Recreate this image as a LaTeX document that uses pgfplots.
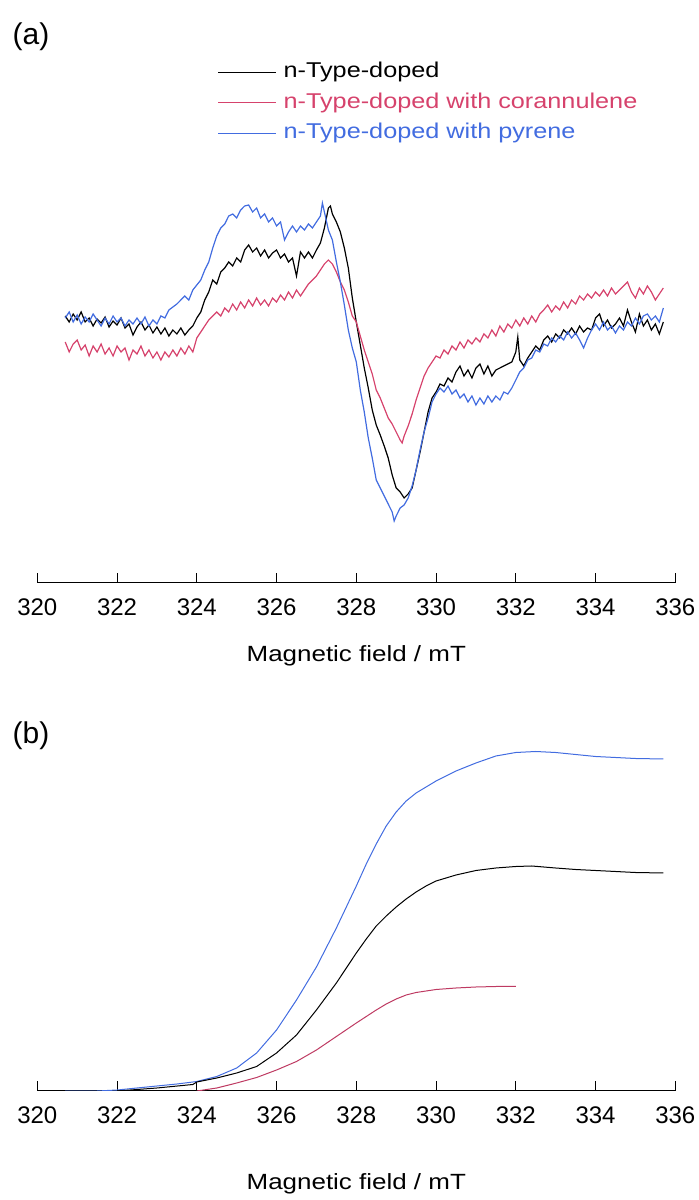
\documentclass[border=0pt]{standalone}
\usepackage{fontspec}
\setmainfont{Liberation Sans}
\newfontfamily\widefont[FakeStretch=1.18]{Liberation Sans}
\usepackage{pgfplots}
\pgfplotsset{compat=1.18}
\definecolor{cblack}{RGB}{0,0,0}
\definecolor{cred}{RGB}{214,66,108}
\definecolor{credb}{RGB}{190,58,98}
\definecolor{cblue}{RGB}{66,108,224}

% y values are (minus) vertical positions
\pgfplotsset{
  esr/.style={
    scale only axis, width=319pt,
    xmin=320, xmax=336,
    axis x line*=bottom, axis y line=none,
    xtick={320,322,...,336},
    tick align=inside, major tick length=5pt,
    axis line style={line width=0.5pt},
    major tick style={line width=0.5pt, black},
    /pgf/number format/assume math mode=true,
    every x tick label/.append style={anchor=center, yshift=-12.25pt,
      font=\fontsize{12}{14}\selectfont},
    xlabel={Magnetic field / mT},
    every axis plot/.append style={line width=0.6pt},
  }
}

\begin{document}
\begin{tikzpicture}
\useasboundingbox (0,0) rectangle (349.5pt,600pt);

\node[font=\fontsize{15}{18}\selectfont] at (15.5pt,581.5pt) {(a)};
\node[font=\fontsize{15}{18}\selectfont] at (15.5pt,232pt) {(b)};

% ---------- (a) ESR spectra ----------
\begin{axis}[esr,
  at={(18.65pt,308.5pt)}, anchor=south west,
  height=200pt, ymin=-583, ymax=-183,
  x label style={at={(axis description cs:0.5,0)}, anchor=center,
    yshift=-36.5pt, font=\widefont\fontsize{11}{13}\selectfont},
  legend style={at={(axis cs:324.507,-62)}, anchor=north west,
    draw=none, fill=none, inner sep=0pt, row sep=5.5pt, column sep=3.5pt,
    font=\widefont\fontsize{10.7}{12}\selectfont,
    nodes={inner sep=0pt, text height=7.6pt, text depth=2.2pt}},
  legend cell align=left,
  legend image code/.code={\draw[#1] (0pt,0pt) -- (29pt,0pt);},
]
\addplot[cblack] coordinates {
(320.7,-316)(320.8,-322)(320.9,-314)(321.0,-320)(321.1,-312)(321.2,-322)(321.3,-318)(321.4,-326)(321.5,-319)(321.6,-323)
(321.7,-317)(321.8,-327)(321.9,-321)(322.0,-325)(322.1,-318)(322.2,-328)(322.3,-324)(322.4,-335)(322.5,-327)(322.6,-322)
(322.7,-330)(322.8,-325)(322.9,-333)(323.0,-327)(323.1,-334)(323.2,-328)(323.3,-336)(323.4,-330)(323.5,-334)(323.6,-328)
(323.7,-335)(323.8,-330)(323.9,-326)(324.0,-318)(324.1,-312)(324.2,-300)(324.3,-292)(324.4,-280)(324.5,-284)(324.6,-272)
(324.7,-268)(324.8,-262)(324.9,-266)(325.0,-258)(325.1,-262)(325.2,-250)(325.3,-245)(325.4,-252)(325.5,-248)(325.6,-256)
(325.7,-250)(325.8,-258)(325.9,-253)(326.0,-250)(326.1,-258)(326.2,-254)(326.3,-262)(326.4,-258)(326.5,-276)(326.6,-252)
(326.7,-258)(326.8,-252)(326.9,-258)(327.0,-250)(327.1,-243)(327.2,-228)(327.3,-208)(327.35,-206)(327.4,-214)(327.5,-222)
(327.6,-232)(327.7,-248)(327.8,-268)(327.9,-298)(328.0,-322)(328.1,-345)(328.2,-368)(328.3,-388)(328.4,-410)(328.5,-425)
(328.6,-435)(328.7,-446)(328.8,-458)(328.9,-475)(329.0,-488)(329.1,-492)(329.2,-498)(329.3,-494)(329.4,-488)(329.5,-470)
(329.6,-452)(329.7,-432)(329.8,-412)(329.9,-398)(330.0,-392)(330.1,-384)(330.2,-386)(330.3,-378)(330.4,-382)(330.5,-372)
(330.6,-366)(330.7,-376)(330.8,-370)(330.9,-378)(331.0,-368)(331.1,-364)(331.2,-374)(331.3,-366)(331.4,-376)(331.5,-370)
(331.6,-368)(331.7,-366)(331.8,-364)(331.9,-362)(332.0,-352)(332.05,-337)(332.1,-360)(332.2,-366)(332.3,-358)(332.4,-352)
(332.5,-346)(332.6,-350)(332.7,-340)(332.8,-336)(332.9,-342)(333.0,-334)(333.1,-338)(333.2,-330)(333.3,-334)(333.4,-328)
(333.5,-334)(333.6,-326)(333.7,-332)(333.8,-328)(333.9,-330)(334.0,-318)(334.1,-314)(334.2,-326)(334.3,-320)(334.4,-328)
(334.5,-324)(334.6,-318)(334.7,-326)(334.8,-310)(334.9,-322)(335.0,-332)(335.1,-314)(335.2,-326)(335.3,-320)(335.4,-330)
(335.5,-324)(335.6,-334)(335.7,-322)
};
\addlegendentry{\textcolor{cblack}{n-Type-doped}}
\addplot[cred] coordinates {
(320.7,-342)(320.8,-352)(320.9,-344)(321.0,-340)(321.1,-350)(321.2,-345)(321.3,-356)(321.4,-346)(321.5,-352)(321.6,-344)
(321.7,-354)(321.8,-348)(321.9,-356)(322.0,-346)(322.1,-352)(322.2,-348)(322.3,-360)(322.4,-350)(322.5,-354)(322.6,-346)
(322.7,-356)(322.8,-350)(322.9,-358)(323.0,-352)(323.1,-360)(323.2,-352)(323.3,-357)(323.4,-350)(323.5,-356)(323.6,-348)
(323.7,-354)(323.8,-346)(323.9,-352)(324.0,-338)(324.1,-332)(324.2,-326)(324.3,-320)(324.4,-316)(324.5,-312)(324.6,-316)
(324.7,-308)(324.8,-312)(324.9,-304)(325.0,-310)(325.1,-302)(325.2,-308)(325.3,-300)(325.4,-306)(325.5,-298)(325.6,-305)
(325.7,-300)(325.8,-306)(325.9,-298)(326.0,-302)(326.1,-295)(326.2,-300)(326.3,-292)(326.4,-298)(326.5,-290)(326.6,-296)
(326.7,-290)(326.8,-284)(326.9,-280)(327.0,-276)(327.1,-270)(327.2,-264)(327.3,-260)(327.4,-264)(327.5,-272)(327.6,-282)
(327.7,-290)(327.8,-302)(327.9,-316)(328.0,-322)(328.1,-336)(328.2,-350)(328.3,-362)(328.4,-374)(328.5,-390)(328.6,-398)
(328.7,-408)(328.8,-418)(328.9,-424)(329.0,-432)(329.1,-440)(329.15,-443)(329.2,-436)(329.3,-426)(329.4,-414)(329.5,-400)
(329.6,-388)(329.7,-376)(329.8,-368)(329.9,-362)(330.0,-356)(330.1,-358)(330.2,-350)(330.3,-354)(330.4,-346)(330.5,-350)
(330.6,-342)(330.7,-348)(330.8,-340)(330.9,-344)(331.0,-338)(331.1,-342)(331.2,-334)(331.3,-338)(331.4,-330)(331.5,-336)
(331.6,-326)(331.7,-332)(331.8,-324)(331.9,-328)(332.0,-320)(332.1,-326)(332.2,-318)(332.3,-324)(332.4,-316)(332.5,-322)
(332.6,-314)(332.7,-310)(332.8,-305)(332.9,-312)(333.0,-306)(333.1,-310)(333.2,-302)(333.3,-308)(333.4,-300)(333.5,-304)
(333.6,-296)(333.7,-300)(333.8,-294)(333.9,-298)(334.0,-292)(334.1,-296)(334.2,-290)(334.3,-296)(334.4,-288)(334.5,-294)
(334.6,-290)(334.7,-286)(334.8,-282)(334.9,-292)(335.0,-298)(335.1,-288)(335.2,-294)(335.3,-286)(335.4,-292)(335.5,-300)
(335.6,-294)(335.7,-288)
};
\addlegendentry{\textcolor{cred}{n-Type-doped with corannulene}}
\addplot[cblue] coordinates {
(320.7,-318)(320.8,-312)(320.9,-322)(321.0,-315)(321.1,-324)(321.2,-317)(321.3,-322)(321.4,-314)(321.5,-320)(321.6,-326)
(321.7,-318)(321.8,-324)(321.9,-316)(322.0,-322)(322.1,-318)(322.2,-326)(322.3,-320)(322.4,-324)(322.5,-318)(322.6,-324)
(322.7,-317)(322.8,-326)(322.9,-320)(323.0,-324)(323.1,-316)(323.2,-318)(323.3,-310)(323.4,-307)(323.5,-304)(323.6,-300)
(323.7,-296)(323.8,-300)(323.9,-290)(324.0,-285)(324.1,-280)(324.2,-270)(324.3,-262)(324.4,-248)(324.5,-236)(324.6,-228)
(324.7,-224)(324.8,-216)(324.9,-214)(325.0,-218)(325.1,-210)(325.2,-206)(325.3,-205)(325.4,-212)(325.5,-208)(325.6,-218)
(325.7,-214)(325.8,-222)(325.9,-218)(326.0,-226)(326.1,-222)(326.2,-240)(326.3,-232)(326.4,-226)(326.5,-232)(326.6,-226)
(326.7,-230)(326.8,-224)(326.9,-228)(327.0,-222)(327.1,-216)(327.15,-203)(327.2,-212)(327.3,-230)(327.4,-240)(327.5,-262)
(327.6,-282)(327.7,-305)(327.8,-330)(327.9,-348)(328.0,-362)(328.1,-390)(328.2,-412)(328.3,-438)(328.4,-458)(328.5,-480)
(328.6,-488)(328.7,-496)(328.8,-504)(328.9,-512)(328.95,-521)(329.0,-516)(329.1,-508)(329.2,-505)(329.3,-498)(329.4,-486)
(329.5,-470)(329.6,-450)(329.7,-432)(329.8,-418)(329.9,-402)(330.0,-394)(330.1,-388)(330.2,-392)(330.3,-386)(330.4,-394)
(330.5,-390)(330.6,-398)(330.7,-394)(330.8,-402)(330.9,-396)(331.0,-405)(331.1,-398)(331.2,-404)(331.3,-396)(331.4,-402)
(331.5,-396)(331.6,-400)(331.7,-392)(331.8,-394)(331.9,-388)(332.0,-380)(332.1,-372)(332.2,-368)(332.3,-360)(332.4,-358)
(332.5,-350)(332.6,-352)(332.7,-344)(332.8,-346)(332.9,-338)(333.0,-342)(333.1,-336)(333.2,-340)(333.3,-332)(333.4,-338)
(333.5,-333)(333.6,-340)(333.7,-348)(333.8,-338)(333.9,-330)(334.0,-324)(334.1,-330)(334.2,-322)(334.3,-330)(334.4,-326)
(334.5,-333)(334.6,-326)(334.7,-330)(334.8,-322)(334.9,-326)(335.0,-318)(335.1,-324)(335.2,-316)(335.3,-314)(335.4,-320)
(335.5,-316)(335.6,-322)(335.7,-308)
};
\addlegendentry{\textcolor{cblue}{n-Type-doped with pyrene}}
\end{axis}

% ---------- (b) double integrals ----------
\begin{axis}[esr,
  at={(18.65pt,54.65pt)}, anchor=south west,
  height=175pt, ymin=-1090.7, ymax=-740.7,
  x label style={at={(axis description cs:0.5,0)}, anchor=center,
    yshift=-46.5pt, font=\widefont\fontsize{11}{13}\selectfont},
  every axis plot/.append style={line width=0.5pt},
]
\addplot[cblue] coordinates {
(320.7,-1091)(321.5,-1091)(322,-1090)(322.5,-1088)(323,-1086)(323.5,-1084)(324,-1081.5)
(324.5,-1076.5)(325,-1068)(325.5,-1053)(326,-1030)(326.5,-1000)(327,-967)(327.5,-928)
(328,-886)(328.25,-864)(328.5,-844)(328.75,-826)(329,-812)(329.25,-801)(329.5,-793)(330,-781)
(330.5,-771)(331,-763)(331.5,-756)(332,-752.5)(332.5,-751.5)(333,-752.5)(333.5,-754.5)
(334,-756.5)(334.5,-757.5)(335,-758.5)(335.7,-759)
};
\addplot[cblack] coordinates {
(322,-1091)(323,-1088)(323.9,-1084.5)(324,-1082)(324.5,-1078)(325,-1073)(325.5,-1066.5)
(326,-1053)(326.5,-1035)(327,-1010)(327.5,-983)(328,-953)(328.25,-939)(328.5,-926)(328.75,-916)
(329,-907)(329.25,-899)(329.5,-892)(329.75,-886)(330,-881)(330.5,-875)(331,-870.5)(331.5,-868)
(332,-866.5)(332.4,-866)(333,-868)(333.5,-869.5)(334,-870.5)(334.5,-871.5)(335,-872.5)(335.7,-873)
};
\addplot[credb] coordinates {
(324,-1091)(324.5,-1088)(325,-1083)(325.5,-1077.5)(326,-1070)(326.5,-1061.5)(327,-1050)
(327.5,-1036.5)(328,-1023)(328.5,-1010)(328.75,-1004)(329,-999)(329.25,-995)(329.5,-992.5)
(330,-989.5)(330.5,-988)(331,-987)(331.5,-986.5)(332,-986.5)
};
\end{axis}
\end{tikzpicture}
\end{document}
